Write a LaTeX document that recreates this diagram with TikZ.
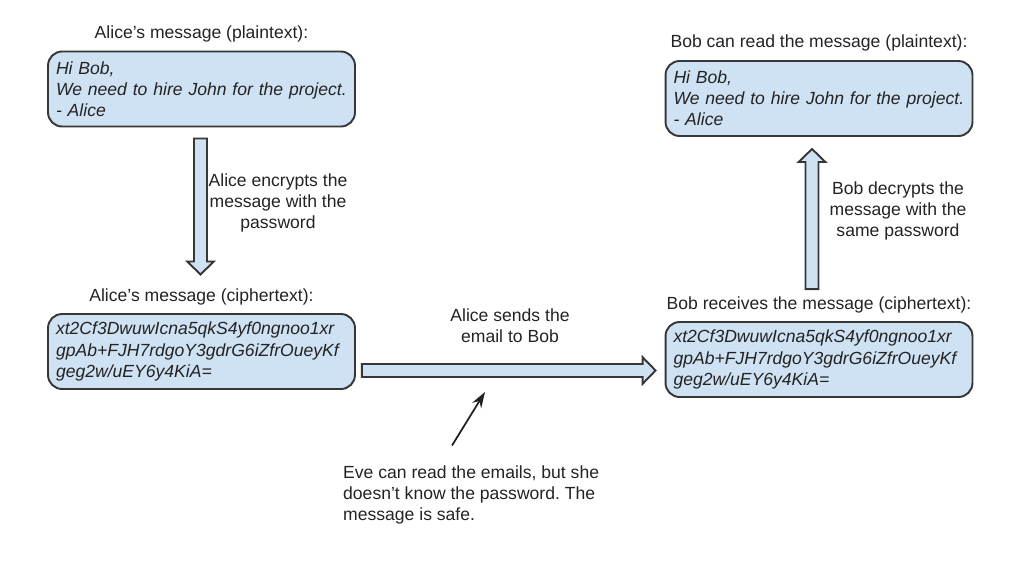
\documentclass[tikz,border=0pt]{standalone}
\usepackage{fontspec}
\setmainfont{Liberation Sans}
\usetikzlibrary{arrows.meta, positioning, calc}
\definecolor{boxblue}{RGB}{207, 226, 243}
\definecolor{edgegray}{RGB}{55, 55, 55}
\definecolor{textgray}{RGB}{35, 35, 35}
\frenchspacing

% hollow block arrow from #1 to #2
\newcommand{\blockarrow}[2]{%
  \draw[edgegray, line width=1.1pt, fill=boxblue, line join=miter]
    let \p1=($(#2)-(#1)$), \n1={atan2(\y1,\x1)}, \n2={veclen(\x1,\y1)} in
    [shift={(#1)}, rotate=\n1]
    (0pt,-3.7pt) -- ({\n2*1pt-7.4pt},-3.7pt) -- ({\n2*1pt-7.4pt},-7.6pt)
    -- ({\n2*1pt},0pt) -- ({\n2*1pt-7.4pt},7.6pt) -- ({\n2*1pt-7.4pt},3.7pt)
    -- (0pt,3.7pt) -- cycle;}

\begin{document}
\begin{tikzpicture}[x=0.02cm, y=-0.02cm,
  every node/.style={text=textgray, font=\fontsize{10}{12}\selectfont},
  msgbox/.style={draw=edgegray, line width=1.1pt, fill=boxblue, rounded corners=8pt,
    text width=5.82cm, minimum height=1.5cm, inner sep=0.16cm, align=left,
    font=\fontsize{10}{12}\selectfont\itshape},
  caption/.style={align=center}]
  \useasboundingbox (0,0) rectangle (1024,566);

  % Alice
  \node[msgbox] (plainA) at (201.5, 89)
    {Hi Bob,\\We need to hire John for the project.\\- Alice};
  \node[above=1.5pt of plainA] (titleA) {Alice's message (plaintext):};
  \node[msgbox] (cipherA) at (201.5, 351.5)
    {xt2Cf3DwuwIcna5qkS4yf0ngnoo1xr\\gpAb+FJH7rdgoY3gdrG6iZfrOueyKf\\geg2w/uEY6y4KiA=};
  \node[above=1pt of cipherA] (titleB) {Alice's message (ciphertext):};

  % Bob
  \node[msgbox] (plainB) at (819, 98.5)
    {Hi Bob,\\We need to hire John for the project.\\- Alice};
  \node[above=1.5pt of plainB] (titleC) {Bob can read the message (plaintext):};
  \node[msgbox] (cipherB) at (819, 359.5)
    {xt2Cf3DwuwIcna5qkS4yf0ngnoo1xr\\gpAb+FJH7rdgoY3gdrG6iZfrOueyKf\\geg2w/uEY6y4KiA=};
  \node[above=1pt of cipherB] (titleD) {Bob receives the message (ciphertext):};

  % block arrows
  \blockarrow{$(plainA.south)+(-1,11)$}{$(plainA.south)+(-1,147)$}
  \blockarrow{$(cipherA.east)+(6,19)$}{$(cipherB.west)+(-9,11)$}
  \blockarrow{$(cipherB.north)+(-7,-32)$}{$(plainB.south)+(-7,12)$}

  % step labels
  \node[caption] (encrypt) at (278, 203)
    {Alice encrypts the\\message with the\\password};
  \node[caption] (send) at (510, 326) {Alice sends the\\email to Bob};
  \node[caption] (decrypt) at (898, 211)
    {Bob decrypts the\\message with the\\same password};

  % Eve
  \node[align=left, anchor=west] (eve) at (337, 495)
    {Eve can read the emails, but she\\doesn't know the password. The\\message is safe.};
  \coordinate (evetail) at ($(eve.north west)+(115,-14)$);
  \coordinate (evetip) at (485, 392);
  \draw[edgegray!60!black, line width=1pt, -{Stealth[length=9pt, width=6pt]}]
    (evetail) -- (evetip);
\end{tikzpicture}
\end{document}
